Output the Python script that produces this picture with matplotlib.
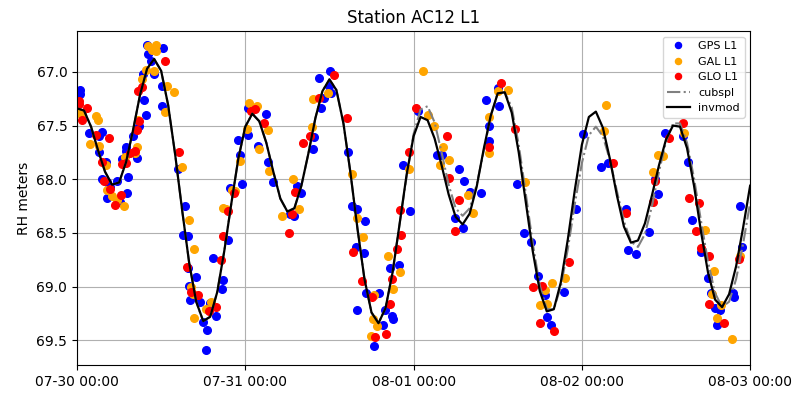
import numpy as np
import pandas as pd
import matplotlib
matplotlib.use('Agg')
import matplotlib.pyplot as plt
import matplotlib.dates as mdates

# hours since 07-30 00:00, reflector height in meters
gps_h = [0.4, 0.4, 1.7, 3.1, 3.5, 3.1, 4.1, 3.6, 4.3, 4.7, 4.3, 6.1, 7.1, 5.7, 6.4, 7.3, 7.0, 7.0, 8.0, 8.5,
         8.8, 9.4, 9.6, 9.8, 10.0, 10.1, 10.6, 11.0, 12.2, 12.1, 12.1, 14.4, 15.4, 15.1, 15.9, 15.9, 17.0, 16.0,
         16.1, 17.5, 17.9, 18.5, 18.4, 18.9, 19.4, 19.8, 20.8, 20.7, 21.6, 21.8, 23.0, 23.3, 23.5,
         24.4, 24.4, 25.8, 26.9, 27.3, 28.0, 30.4, 31.0, 31.4, 32.0, 33.7, 33.8, 34.8, 35.2, 34.5, 36.1, 36.2,
         36.0, 38.6, 39.2, 40.0, 41.1, 39.8, 40.9, 41.2, 40.0, 43.1, 42.3, 43.6, 43.9, 44.9, 45.0, 44.6, 45.9,
         47.5, 46.5,
         48.6, 51.3, 52.1, 54.5, 55.2, 53.9, 55.0, 56.0, 57.6, 58.8, 58.8, 58.4, 60.0, 60.2, 62.8, 63.7, 64.7,
         65.8, 66.8, 67.1, 67.6, 69.4, 71.1,
         72.2, 74.8, 75.7, 78.3, 78.6, 79.7, 81.6, 82.5, 82.9, 83.8, 86.4, 87.1, 87.7, 89.0, 90.0, 90.4, 91.0,
         91.7, 91.3, 93.5, 93.7, 94.9, 94.5]
gps_rh = [67.17, 67.21, 67.57, 67.6, 67.56, 67.75, 67.84, 68.0, 68.03, 68.07, 68.17, 68.21, 68.13, 68.02, 67.81,
          67.98, 67.7, 67.74, 67.6, 67.8, 67.5, 67.02, 67.26, 67.4, 66.75, 66.83, 66.9, 67.02, 66.78, 67.13,
          67.32, 67.9, 68.25, 68.52, 68.53, 68.83, 68.91, 68.99, 69.12, 69.14, 69.33, 69.4, 69.59, 69.15, 68.73,
          69.27, 68.94, 69.02, 68.57, 68.08, 67.63, 67.77, 68.04,
          67.34, 67.59, 67.69, 67.39, 67.84, 68.03, 68.32, 68.34, 68.06, 68.13, 67.72, 67.61, 67.34, 67.24,
          67.06, 66.99, 67.2, 67.13, 67.75, 68.25, 68.28, 68.39, 68.63, 68.69, 69.06, 69.22, 69.06, 69.55,
          69.36, 69.22, 69.27, 69.3, 68.83, 68.8, 68.3, 67.87,
          67.36, 67.77, 67.77, 67.9, 68.02, 68.36, 68.45, 68.12, 68.13, 67.64, 67.5, 67.26, 67.15, 67.32, 68.04,
          68.5, 68.58, 68.9, 69.08, 69.28, 69.36, 69.05, 68.28,
          67.58, 67.89, 67.85, 68.28, 68.66, 68.7, 68.49, 68.0, 68.14, 67.57, 67.6, 67.84, 68.38, 68.68, 68.92,
          69.06, 69.2, 69.22, 69.36, 69.06, 69.1, 68.63, 68.25]

gal_h = [0.3, 0.7, 1.8, 2.75, 3.0, 3.1, 4.2, 4.3, 5.0, 6.7, 5.7, 6.7, 6.9, 8.5, 8.2, 8.7, 9.3, 9.8, 10.1, 10.7,
         11.2, 11.3, 11.0, 12.8, 13.9, 12.6, 15.0, 16.0, 16.7, 16.2, 16.5, 16.7, 18.4, 19.1, 20.8, 21.3, 22.1,
         22.5, 23.3,
         24.3, 24.6, 25.6, 25.9, 27.3, 27.4, 29.3, 31.7, 30.8, 33.5, 33.7, 35.8, 39.2, 39.9, 40.8, 42.3, 42.2,
         41.9, 42.8, 45.0, 44.4, 46.0, 47.3,
         49.4, 50.1, 50.9, 52.2, 53.1, 51.8, 55.8, 56.5, 58.7, 58.7, 60.1, 61.4, 63.9, 66.8, 66.1, 67.0, 67.8,
         69.6,
         75.4, 75.1, 82.2, 82.9, 83.6, 86.5, 89.6, 90.9, 90.5, 91.3, 91.9, 93.4, 94.6]
gal_rh = [67.38, 67.39, 67.67, 67.41, 67.45, 67.69, 67.87, 68.1, 68.16, 68.25, 68.19, 67.85, 67.79, 67.7, 67.76,
          67.45, 67.07, 66.98, 66.76, 66.8, 66.75, 66.81, 66.99, 67.13, 67.19, 67.37, 67.89, 68.38, 68.65, 69.0,
          69.07, 69.29, 69.21, 69.14, 68.27, 68.28, 68.1, 68.11, 67.83,
          67.53, 67.29, 67.32, 67.72, 67.54, 67.92, 68.34, 68.28, 68.0, 67.51, 67.25, 67.2, 67.95, 68.36, 68.54,
          69.08, 69.3, 69.46, 69.37, 69.02, 68.71, 68.86, 67.9,
          66.99, 67.4, 67.5, 67.7, 67.82, 67.87, 68.15, 68.31, 67.76, 67.42, 67.18, 67.17, 68.03, 69.03, 69.17,
          69.16, 68.97, 68.92,
          67.31, 67.55, 67.93, 67.77, 67.78, 67.57, 68.47, 68.85, 69.07, 69.29, 69.17, 69.49, 68.71]

glo_h = [0.3, 0.3, 0.7, 1.4, 2.75, 4.6, 3.6, 3.9, 4.7, 5.4, 6.3, 6.4, 7.0, 7.5, 8.2, 8.6, 8.9, 8.7, 9.2, 12.5,
         14.5, 15.7, 16.3, 17.3, 18.8, 19.8, 20.6, 20.8, 21.6, 22.4,
         24.8, 25.4, 26.7, 30.2, 30.7, 31.1, 32.3, 33.3, 34.5, 36.6, 38.5, 39.4, 40.6, 42.1, 42.5, 44.1, 44.7,
         44.9, 45.6, 46.2, 46.1, 47.3,
         48.3, 52.7, 53.0, 54.5, 53.9, 58.7, 60.5, 62.4, 65.1, 66.3, 66.1, 68.1, 70.2,
         76.5, 78.3, 82.1, 82.4, 84.5, 86.4, 87.3, 88.7, 88.3, 89.0, 90.2, 90.2, 92.3, 94.4]
glo_rh = [67.27, 67.3, 67.45, 67.34, 67.59, 67.62, 67.84, 68.02, 68.09, 68.24, 68.15, 67.86, 67.85, 67.76, 67.74,
          67.54, 67.46, 67.18, 67.14, 66.9, 67.75, 68.82, 69.05, 69.08, 69.23, 69.19, 68.75, 68.53, 68.3, 68.13,
          67.36, 67.35, 67.48, 68.5, 68.32, 68.12, 67.66, 67.6, 67.24, 67.03, 67.43, 68.68, 68.95, 69.1, 69.47,
          69.44, 69.16, 68.93, 68.65, 68.52, 68.29, 67.75,
          67.34, 67.6, 67.99, 68.19, 68.48, 67.7, 67.1, 67.53, 69.0, 68.99, 69.34, 69.41, 68.77,
          67.85, 68.31, 68.21, 68.02, 67.62, 67.48, 68.17, 68.22, 68.48, 68.64, 68.71, 69.16, 69.34, 68.74]

# model curves, hourly
curve_h = list(range(97))
invmod = [67.34, 67.36, 67.51, 67.73, 67.93, 68.05, 68.03, 67.84, 67.54, 67.21, 66.97, 66.88, 66.99, 67.31,
          67.77, 68.29, 68.78, 69.14, 69.32, 69.28, 69.05, 68.67, 68.23, 67.81, 67.51, 67.39, 67.46, 67.66,
          67.93, 68.18, 68.30, 68.27, 68.06, 67.76, 67.43, 67.18, 67.07, 67.17, 67.48, 67.94, 68.46, 68.93,
          69.24, 69.34, 69.20, 68.87, 68.42, 67.96, 67.60, 67.42, 67.45, 67.62, 67.87, 68.14, 68.35, 68.42,
          68.32, 68.07, 67.72, 67.41, 67.20, 67.19, 67.38, 67.75, 68.21, 68.67, 69.04, 69.23, 69.21, 68.96,
          68.56, 68.10, 67.68, 67.42, 67.37, 67.52, 67.81, 68.15, 68.44, 68.59, 68.57, 68.41, 68.15, 67.87,
          67.63, 67.50, 67.51, 67.71, 68.06, 68.49, 68.87, 69.12, 69.19, 69.07, 68.81, 68.45, 68.06]
cubspl = [67.34, 67.36, 67.51, 67.73, 67.93, 68.05, 68.03, 67.84, 67.54, 67.21, 66.97, 66.88, 66.99, 67.31,
          67.77, 68.29, 68.78, 69.14, 69.32, 69.28, 69.05, 68.67, 68.23, 67.81, 67.51, 67.39, 67.46, 67.66,
          67.93, 68.18, 68.30, 68.27, 68.06, 67.76, 67.43, 67.18, 67.07, 67.17, 67.48, 67.94, 68.46, 68.93,
          69.24, 69.34, 69.20, 68.87, 68.42, 67.98, 67.58, 67.35, 67.32, 67.47, 67.75, 68.05, 68.27, 68.34,
          68.27, 68.05, 67.74, 67.41, 67.20, 67.19, 67.33, 67.68, 68.13, 68.60, 68.99, 69.21, 69.21, 69.00,
          68.65, 68.23, 67.85, 67.59, 67.51, 67.60, 67.82, 68.11, 68.39, 68.58, 68.63, 68.51, 68.25, 67.93,
          67.65, 67.48, 67.48, 67.66, 67.99, 68.39, 68.77, 69.06, 69.19, 69.14, 68.93, 68.60, 68.22]

t0 = pd.Timestamp('2021-07-30 00:00')
def to_time(h):
    return t0 + pd.to_timedelta(np.array(h), unit='h')

fig, ax = plt.subplots(figsize=(7.98, 3.93), dpi=100)
plt.subplots_adjust(left=0.0965, right=0.94, top=0.921, bottom=0.071)

ax.plot(to_time(gps_h), gps_rh, 'o', color='blue', markersize=5.5, label='GPS L1')
ax.plot(to_time(gal_h), gal_rh, 'o', color='orange', markersize=5.5, label='GAL L1')
ax.plot(to_time(glo_h), glo_rh, 'o', color='red', markersize=5.5, label='GLO L1')
ax.plot(to_time(curve_h), cubspl, '-.', color='gray', linewidth=1.5, label='cubspl')
ax.plot(to_time(curve_h), invmod, '-', color='black', linewidth=1.6, label='invmod')

ax.set_xlim(t0, t0 + pd.Timedelta(days=4))
ax.set_ylim(69.73, 66.62)
ax.xaxis.set_major_locator(mdates.DayLocator())
ax.xaxis.set_major_formatter(mdates.DateFormatter('%m-%d %H:%M'))
ax.set_ylabel('RH meters')
ax.set_title('Station AC12 L1')
ax.grid(True)
ax.legend(loc='upper right', fontsize=8, markerscale=0.8)

plt.savefig('out.png', dpi=100)
